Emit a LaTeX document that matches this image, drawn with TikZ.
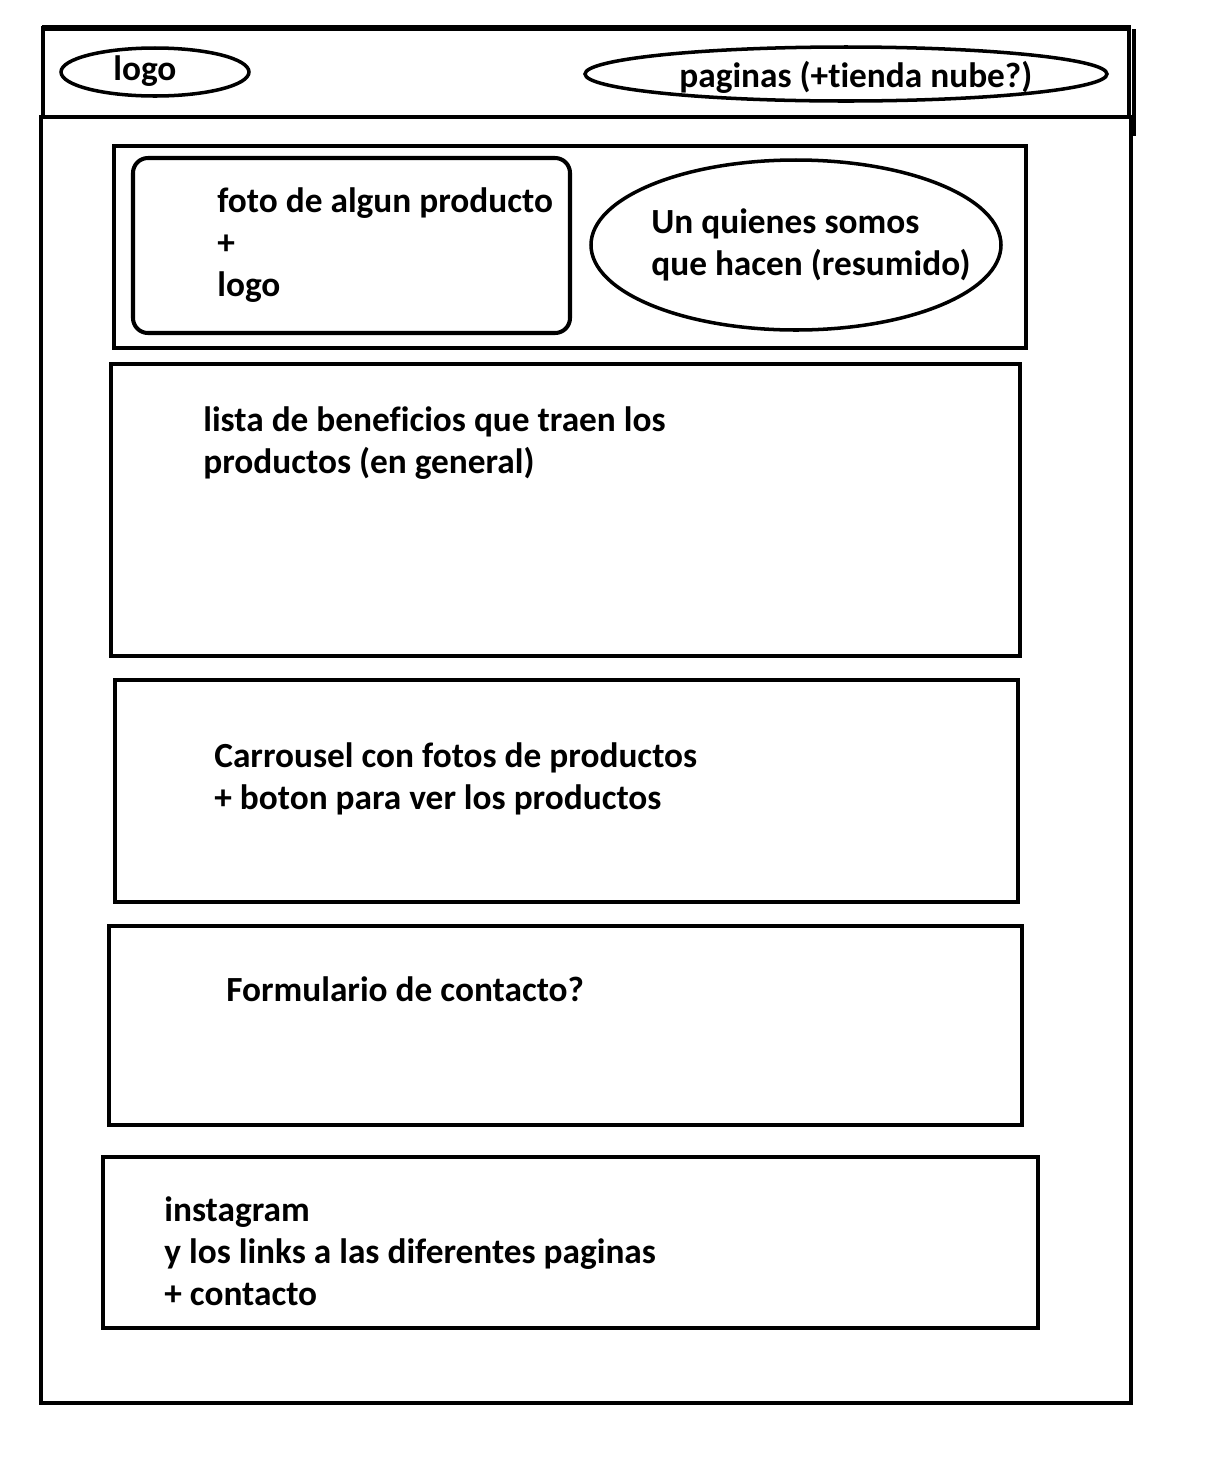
\documentclass[tikz,border=0pt]{standalone}
\usepackage{fontspec}
\setmainfont{Carlito}[Ligatures=NoCommon]
\tikzset{
  box/.style={line width=2.3pt},
  oval/.style={line width=2pt},
  txt/.style={anchor=base west,inner sep=0pt,font=\bfseries\fontsize{20.1}{24}\selectfont},
}

\begin{document}
\begin{tikzpicture}[x=0.02cm,y=-0.02cm]
      \useasboundingbox (0,0) rectangle (1212,1458);
      % header bar
      \draw[box] (43,117) -- (43,28) -- (1129,28) -- (1129,117);
      \draw[line width=3.4pt] (42,28) -- (1131,28);
      \draw[box] (1134,29) -- (1134,136);
      \draw[box] (41,117) -- (1136,117);
      \draw[oval] (155,72) ellipse [x radius=94,y radius=24];
      \node[txt] (hlogo) at (113,80) {logo};
      \draw[oval] (846,74) ellipse [x radius=261,y radius=27];
      \node[txt] (paginas) at (679,87) {paginas (+tienda nube?)};
      % body
      \draw[box] (41,117) rectangle (1131,1403);
      % hero
      \draw[box] (114,146) rectangle (1026,348);
      \draw[box,rounded corners=0.3cm] (133,158) rectangle (570,333);
      \node[txt] (foto) at (217,212) {foto de algun producto};
      \node[txt] (mas) at (217,254) {+};
      \node[txt] (flogo) at (217,296) {logo};
      \draw[oval] (796,245) ellipse [x radius=205,y radius=85];
      \node[txt] (quienes) at (651,233) {Un quienes somos};
      \node[txt] (hacen) at (651,275) {que hacen (resumido)};
      % beneficios
      \draw[box] (111,364) rectangle (1020,656);
      \node[txt] (lista) at (203,431) {lista de beneficios que traen los};
      \node[txt] (general) at (203,473) {productos (en general)};
      % carrousel
      \draw[box] (115,680) rectangle (1018,902);
      \node[txt] (carrousel) at (214,767) {Carrousel con fotos de productos};
      \node[txt] (boton) at (214,809) {+ boton para ver los productos};
      % formulario
      \draw[box] (109,926) rectangle (1022,1125);
      \node[txt] (form) at (226,1001) {Formulario de contacto?};
      % footer
      \draw[box] (103,1157) rectangle (1038,1328);
      \node[txt] (insta) at (164,1221) {instagram};
      \node[txt] (links) at (164,1263) {y los links a las diferentes paginas};
      \node[txt] (contacto) at (164,1305) {+ contacto};
    \end{tikzpicture}
\end{document}
